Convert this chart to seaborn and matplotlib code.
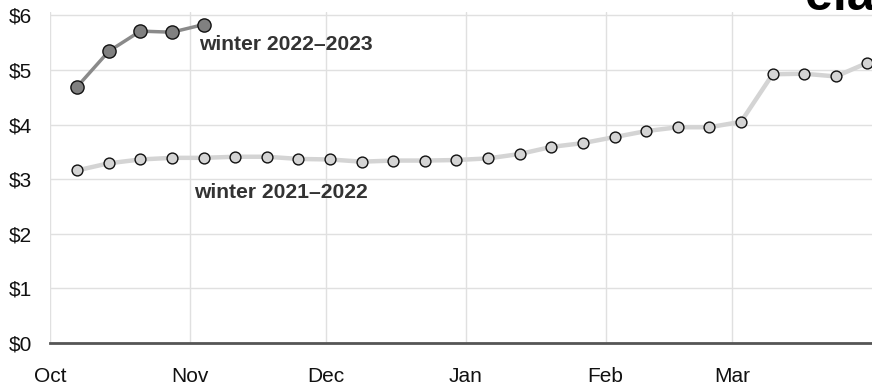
import numpy as np
import pandas as pd
import matplotlib
matplotlib.use("Agg")
import matplotlib.pyplot as plt
import matplotlib.dates as mdates
import matplotlib.ticker as mticker
import seaborn as sns

# weekly residential heating oil price, $/gallon
weeks = pd.date_range("2021-10-07", periods=26, freq="7D")
price_2122 = [3.16, 3.29, 3.36, 3.39, 3.39, 3.41, 3.41, 3.37, 3.36, 3.32, 3.34, 3.34, 3.35,
              3.38, 3.46, 3.59, 3.66, 3.77, 3.88, 3.95, 3.95, 4.05, 4.92, 4.93, 4.88, 5.13]
price_2223 = [4.69, 5.34, 5.71, 5.69, 5.83]
label_2122 = "winter 2021\u20132022"
label_2223 = "winter 2022\u20132023"
yticks = [0, 1, 2, 3, 4, 5, 6]

sns.set_style("white")
plt.rcParams['font.family'] = ['Liberation Sans', 'DejaVu Sans']

fig = plt.figure(figsize=(8.72, 3.85), dpi=100)
ax = fig.add_axes([50/872, 42/385, 822/872, 331/385])

sns.lineplot(x=weeks, y=price_2122, ax=ax, color="#d4d4d4", linewidth=3.2,
             marker="o", markersize=7.8, markerfacecolor="#d4d4d4",
             markeredgecolor="#111111", markeredgewidth=1, zorder=3)
sns.lineplot(x=weeks[:len(price_2223)], y=price_2223, ax=ax, color="#8a8a8a", linewidth=2.5,
             marker="o", markersize=9.5, markerfacecolor="#808080",
             markeredgecolor="#111111", markeredgewidth=1, zorder=4)

ax.text(pd.Timestamp("2021-11-03"), 5.47, label_2223, fontsize=15.2, fontweight="bold",
        color="#333333", va="center", ha="left")
ax.text(pd.Timestamp("2021-11-02"), 2.76, label_2122, fontsize=15.2, fontweight="bold",
        color="#333333", va="center", ha="left")

ax.set_xlim(pd.Timestamp("2021-10-01"), pd.Timestamp("2022-04-01"))
ax.set_ylim(0, 6.06)
ax.set_yticks(yticks)
ax.yaxis.set_major_formatter(mticker.FuncFormatter(lambda v, p: f"${v:.0f}"))
ax.set_xticks([pd.Timestamp(d) for d in ["2021-10-01", "2021-11-01", "2021-12-01",
                                         "2022-01-01", "2022-02-01", "2022-03-01"]])
ax.xaxis.set_major_formatter(mdates.DateFormatter("%b"))

ax.grid(True, color="#e0e0e0", linewidth=1)
ax.set_axisbelow(True)
for s in ["top", "right", "left"]:
    ax.spines[s].set_visible(False)
ax.spines["bottom"].set_color("#555555")
ax.spines["bottom"].set_linewidth(2)
ax.spines["bottom"].set_zorder(5)
ax.tick_params(axis="y", length=0, pad=13, labelsize=15, labelcolor="#111111")
ax.tick_params(axis="x", length=0, pad=17, labelsize=15, labelcolor="#111111")
ax.set_xlabel("")
ax.set_ylabel("")

fig.text(805/872, 1 - 10/385, "eia", fontsize=36, fontweight="bold", color="black",
         ha="left", va="baseline")

fig.savefig("out.png", dpi=100)
